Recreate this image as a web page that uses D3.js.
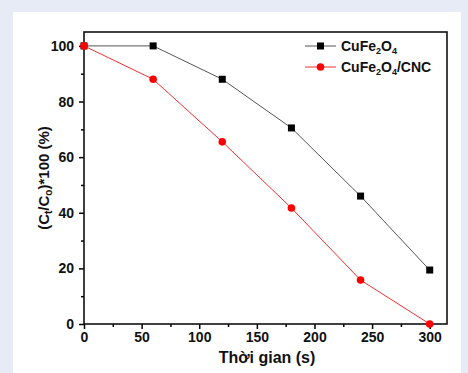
<!DOCTYPE html>
<html>
<head>
<meta charset="utf-8">
<script src="https://cdn.jsdelivr.net/npm/d3@7"></script>
<style>
  body { margin: 0; background: #E7EBF5; }
  svg { display: block; font-family: "Liberation Sans", Arial, sans-serif; }
</style>
</head>
<body>
<svg id="chart"></svg>
<script>
const width = 468, height = 373;

// data
const times = [0, 60, 120, 180, 240, 300];
const cufe = [100, 100, 88, 70.5, 46, 19.4];
const cufeCnc = [100, 88, 65.5, 41.7, 15.8, 0];
const xTicks = [0, 50, 100, 150, 200, 250, 300];
const yTicks = [0, 20, 40, 60, 80, 100];

const svg = d3.select("#chart")
    .attr("width", width)
    .attr("height", height);

// white panel
svg.append("rect")
    .attr("x", 13).attr("y", 12)
    .attr("width", 448).attr("height", 370)
    .attr("fill", "white");

const margin = { top: 32, left: 84, right: 447, bottom: 324 };

const xScale = d3.scaleLinear()
    .domain([0, 315])
    .range([margin.left, margin.right]);

const yScale = d3.scaleLinear()
    .domain([0, 105])
    .range([margin.bottom, margin.top]);

// minor ticks
svg.append("g")
    .attr("transform", `translate(0, ${margin.bottom})`)
    .call(d3.axisBottom(xScale).tickValues(d3.range(25, 315, 50)).tickSize(3).tickFormat(""))
    .call(g => g.select(".domain").remove())
    .selectAll("line").attr("stroke-width", 1.5);

svg.append("g")
    .attr("transform", `translate(${margin.left}, 0)`)
    .call(d3.axisLeft(yScale).tickValues(d3.range(10, 105, 20)).tickSize(3).tickFormat(""))
    .call(g => g.select(".domain").remove())
    .selectAll("line").attr("stroke-width", 1.5);

// major ticks
const xAxis = svg.append("g")
    .attr("transform", `translate(0, ${margin.bottom})`)
    .call(d3.axisBottom(xScale).tickValues(xTicks).tickSize(5).tickPadding(3))
    .call(g => g.select(".domain").remove());
xAxis.selectAll("line").attr("stroke-width", 1.5);
xAxis.selectAll("text")
    .attr("font-size", 14).attr("font-weight", "bold").attr("fill", "#111")
    .attr("font-family", "Liberation Sans, Arial, sans-serif");

const yAxis = svg.append("g")
    .attr("transform", `translate(${margin.left}, 0)`)
    .call(d3.axisLeft(yScale).tickValues(yTicks).tickSize(5).tickPadding(5))
    .call(g => g.select(".domain").remove());
yAxis.selectAll("line").attr("stroke-width", 1.5);
yAxis.selectAll("text")
    .attr("font-size", 14).attr("font-weight", "bold").attr("fill", "#111")
    .attr("font-family", "Liberation Sans, Arial, sans-serif");

// frame
svg.append("rect")
    .attr("x", margin.left).attr("y", margin.top)
    .attr("width", margin.right - margin.left)
    .attr("height", margin.bottom - margin.top)
    .attr("fill", "none")
    .attr("stroke", "#111")
    .attr("stroke-width", 1.6);

// axis labels
svg.append("text")
    .attr("x", 267).attr("y", 363)
    .attr("text-anchor", "middle")
    .attr("font-size", 16).attr("font-weight", "bold").attr("fill", "#111")
    .text("Thời gian (s)");

const yLabel = svg.append("text")
    .attr("transform", `translate(49, 178) rotate(-90)`)
    .attr("text-anchor", "middle")
    .attr("font-size", 15).attr("font-weight", "bold").attr("fill", "#111");
yLabel.append("tspan").text("(C");
yLabel.append("tspan").attr("font-size", 10).attr("dy", 3).text("t");
yLabel.append("tspan").attr("dy", -3).text("/C");
yLabel.append("tspan").attr("font-size", 10).attr("dy", 3).text("o");
yLabel.append("tspan").attr("dy", -3).text(")*100 (%)");

// series
const series = [
    { name: "CuFe2O4", values: cufe, line: "#555", mark: "#000", shape: "square" },
    { name: "CuFe2O4/CNC", values: cufeCnc, line: "#f03030", mark: "#ff0000", shape: "circle" }
];

const line = d3.line()
    .x((d, i) => xScale(times[i]))
    .y(d => yScale(d));

series.forEach(function(s) {
    svg.append("path")
        .datum(s.values)
        .attr("fill", "none")
        .attr("stroke", s.line)
        .attr("stroke-width", 1)
        .attr("d", line);

    if (s.shape === "square") {
        svg.selectAll(null)
            .data(s.values)
            .enter().append("rect")
            .attr("x", (d, i) => xScale(times[i]) - 3.5)
            .attr("y", d => yScale(d) - 3.5)
            .attr("width", 7).attr("height", 7)
            .attr("fill", s.mark);
    } else {
        svg.selectAll(null)
            .data(s.values)
            .enter().append("circle")
            .attr("cx", (d, i) => xScale(times[i]))
            .attr("cy", d => yScale(d))
            .attr("r", 3.8)
            .attr("fill", s.mark);
    }
});

// legend
const legend = svg.selectAll(".legend")
    .data(series)
    .enter().append("g")
    .attr("class", "legend")
    .attr("transform", (d, i) => `translate(0, ${46 + i * 21})`);

legend.append("line")
    .attr("x1", 305).attr("x2", 336)
    .attr("stroke", d => d.line).attr("stroke-width", 1);

legend.each(function(d) {
    const g = d3.select(this);
    if (d.shape === "square") {
        g.append("rect").attr("x", 317).attr("y", -3.5).attr("width", 7).attr("height", 7).attr("fill", d.mark);
    } else {
        g.append("circle").attr("cx", 320.5).attr("r", 3.8).attr("fill", d.mark);
    }
    const t = g.append("text")
        .attr("x", 341).attr("y", 5)
        .attr("font-size", 14).attr("font-weight", "bold").attr("fill", "#111");
    t.append("tspan").text("CuFe");
    t.append("tspan").attr("font-size", 9).attr("dy", 3).text("2");
    t.append("tspan").attr("dy", -3).text("O");
    t.append("tspan").attr("font-size", 9).attr("dy", 3).text("4");
    if (d.name.endsWith("/CNC")) t.append("tspan").attr("dy", -3).text("/CNC");
});
</script>
</body>
</html>
